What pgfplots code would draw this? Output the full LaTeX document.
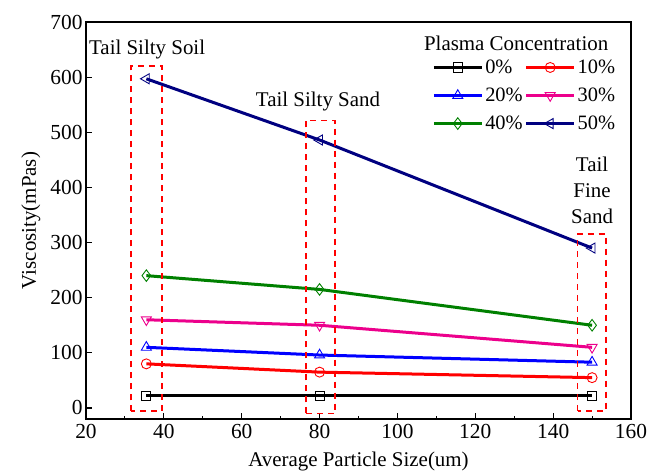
\documentclass[border=0pt]{standalone}
\usepackage{pgfplots}
\pgfplotsset{compat=1.18}
\usepackage{fontspec}
\setmainfont{Liberation Serif}
\definecolor{cgreen}{RGB}{0,128,0}
\definecolor{cnavy}{RGB}{0,0,128}
\pgfplotsset{
  ser/.style={line width=3bp, mark size=5.8bp,
    legend image code/.code={\draw[mark repeat=2,mark phase=2] plot coordinates {(0bp,0bp) (24bp,0bp) (48bp,0bp)};}},
  mo/.style={mark options={solid, fill=white, line width=0.9bp, #1}},
}
\begin{document}
\begin{tikzpicture}
\useasboundingbox (-86bp,-52bp) rectangle (571bp,419bp);
\begin{axis}[
  scale only axis, width=545bp, height=397bp,
  xmin=20, xmax=160, ymin=-20, ymax=700,
  clip=false,
  xtick={20,40,...,160}, ytick={0,100,...,700},
  minor x tick num=1,
  xtick pos=bottom, ytick pos=left,
  tick align=inside,
  major tick length=6bp, minor tick length=3bp,
  axis line style={line width=1.4bp},
  every tick/.style={line width=1.1bp, black},
  /pgf/number format/assume math mode=true,
  tick label style={font=\fontsize{21.5}{24}\selectfont},
  xticklabel style={yshift=-2bp},
  xlabel={Average Particle Size(um)},
  ylabel={Viscosity(mPas)},
  label style={font=\fontsize{21}{24}\selectfont},
  xlabel style={yshift=-6bp},
  ylabel style={yshift=3bp},
  legend columns=2,
  legend style={draw=none, fill=none, at={(0.635,0.910)}, anchor=north west,
    inner sep=0pt, font=\fontsize{20.5}{24}\selectfont, row sep=9bp},
  legend cell align=left,
]
\addplot[ser, black, mark=square, mark size=4.6bp, mo={}] coordinates {(35.5,22) (80,22) (150,22)};
\addlegendentry{0\%}
\addplot[ser, red, mark=o, mark size=5bp, mo={}] coordinates {(35.5,80) (80,65) (150,55)};
\addlegendentry{10\%}
\addplot[ser, blue, mark=triangle, mo={}] coordinates {(35.5,110) (80,96) (150,83)};
\addlegendentry{20\%}
\addplot[ser, magenta, mark=triangle, mo={rotate=180}] coordinates {(35.5,160) (80,150) (150,110)};
\addlegendentry{30\%}
\addplot[ser, cgreen, mark=diamond, mo={}] coordinates {(35.5,240) (80,215) (150,150)};
\addlegendentry{40\%}
\addplot[ser, cnavy, mark=triangle, mo={rotate=90}] coordinates {(35.5,597) (80,486) (150,290)};
\addlegendentry{50\%}
\draw[color=red, line width=1.6bp, dash pattern=on 6bp off 5bp] (axis cs:31.6,-6) rectangle (axis cs:39.5,620);
\draw[color=red, line width=1.6bp, dash pattern=on 6bp off 5bp] (axis cs:76.5,-10) rectangle (axis cs:84,521);
\draw[color=red, line width=1.6bp, dash pattern=on 6bp off 5bp] (axis cs:146.3,-5) rectangle (axis cs:153.5,316);
\node[font=\fontsize{21}{24}\selectfont] at (axis cs:35.7,651) {Tail Silty Soil};
\node[font=\fontsize{21}{24}\selectfont] at (axis cs:79.6,555) {Tail Silty Sand};
\node[font=\fontsize{21}{26}\selectfont, align=center] at (axis cs:150,394) {Tail\\Fine\\Sand};
\node[font=\fontsize{21}{24}\selectfont] at (axis cs:130.5,661) {Plasma Concentration};
\end{axis}
\end{tikzpicture}
\end{document}
